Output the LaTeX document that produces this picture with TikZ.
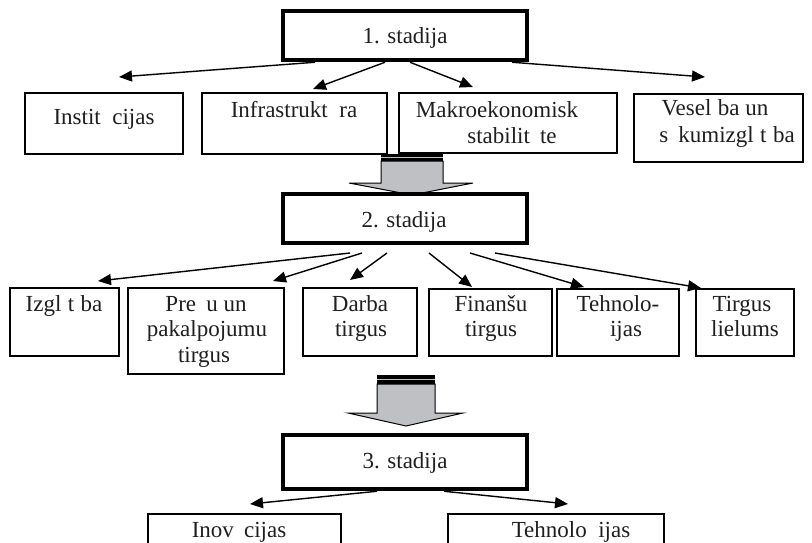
\documentclass[tikz,border=0pt]{standalone}
\usepackage{fontspec}
\setmainfont{Liberation Serif}
\usetikzlibrary{arrows.meta,calc}
% blank space left where a glyph is missing
\newcommand\gp[1]{\hspace{#1em}}
\definecolor{arrowgray}{RGB}{190,192,195}
\begin{document}
\begin{tikzpicture}[x=1pt,y=-1pt,
  box/.style={draw=black, line width=1.3pt, fill=white, inner sep=0pt},
  stage/.style={draw=black, line width=4.5pt, fill=white, inner sep=0pt},
  lbl/.style={anchor=base, inner sep=0pt, font=\fontsize{23}{26}\selectfont, text=black!88},
  arr/.style={line width=1.4pt, -{Triangle[length=13pt,width=11pt]}},
  blockarrow/.style={fill=arrowgray, draw=black, line width=1pt},
  arrowcap/.style={fill=black},
]
\useasboundingbox (0,0) rectangle (812,542);
\clip (0,0) rectangle (812,542);

% ---- block arrows between the stages ----
\fill[arrowcap] (381,154) rectangle (443,161);
\draw[arrowgray, line width=0.8pt] (381,157.5) -- (443,157.5);
\draw[blockarrow] (381,161) -- (381,183) -- (349,183) -- (412,195) -- (473,183) -- (443,183) -- (443,161) -- cycle;

\fill[arrowcap] (377,375) rectangle (435,384);
\draw[arrowgray, line width=0.8pt] (377,379.5) -- (435,379.5);
\draw[blockarrow] (377,384) -- (377,413) -- (348,413) -- (406,426) -- (463,413) -- (435,413) -- (435,384) -- cycle;

% ---- stage 1 ----
\node[stage, minimum width=244pt, minimum height=49pt] (s1) at (405,35.5) {};
\node[lbl] (s1-t) at (405,43) {1. stadija};

\node[box, minimum width=158pt, minimum height=61pt] (inst) at (104,123.5) {};
\node[box, minimum width=185pt, minimum height=61pt] (infra) at (294.5,123.5) {};
\node[box, minimum width=218pt, minimum height=60pt] (makro) at (508,123) {};
\node[box, minimum width=169pt, minimum height=68pt] (vesel) at (718.5,128) {};

\node[lbl] (inst-t) at (104,124) {Instit\gp{0.5}cijas};
\node[lbl] (infra-t) at (294,117) {Infrastrukt\gp{0.5}ra};
\node[lbl] (makro-t1) at (497,117) {Makroekonomisk};
\node[lbl] (makro-t2) at (512,143.5) {stabilit\gp{0.44}te};
\node[lbl] (vesel-t1) at (715,115) {Vesel\gp{0.28}ba un};
\node[lbl] (vesel-t2) at (727,142) {s\gp{0.44}kumizgl\gp{0.28}t\gp{0.28}ba};

\coordinate (inst-in) at (119,77);
\coordinate (infra-in) at (313,89);
\coordinate (makro-in) at (473,87);
\coordinate (vesel-in) at (705,77);
\draw[arr] (s1.south -| 315,0) -- (inst-in);
\draw[arr] (s1.south -| 385,0) -- (infra-in);
\draw[arr] (s1.south -| 410,0) -- (makro-in);
\draw[arr] (s1.south -| 512,0) -- (vesel-in);

% ---- stage 2 ----
\node[stage, minimum width=244pt, minimum height=49pt] (s2) at (405,218.5) {};
\node[lbl] (s2-t) at (404,227) {2. stadija};

\node[box, minimum width=109pt, minimum height=68pt] (izgl) at (64.5,322) {};
\node[box, minimum width=156pt, minimum height=86pt] (precu) at (206,331) {};
\node[box, minimum width=114pt, minimum height=68pt] (darba) at (360,322) {};
\node[box, minimum width=123pt, minimum height=67pt] (finan) at (490.5,322.5) {};
\node[box, minimum width=122pt, minimum height=67pt] (tehn) at (618,322.5) {};
\node[box, minimum width=98pt, minimum height=67pt] (tirg) at (745,322.5) {};

\node[lbl] (izgl-t) at (64,311) {Izgl\gp{0.28}t\gp{0.28}ba};
\node[lbl] (precu-t1) at (206,311) {Pre\gp{0.44}u un};
\node[lbl] (precu-t2) at (207,336) {pakalpojumu};
\node[lbl] (precu-t3) at (204,362) {tirgus};
\node[lbl] (darba-t1) at (360,311) {Darba};
\node[lbl] (darba-t2) at (361,336) {tirgus};
\node[lbl] (finan-t1) at (491,311) {Finanšu};
\node[lbl] (finan-t2) at (491,336) {tirgus};
\node[lbl] (tehn-t1) at (618,311) {Tehnolo-};
\node[lbl] (tehn-t2) at (626,336) {ijas};
\node[lbl] (tirg-t1) at (742,311) {Tirgus};
\node[lbl] (tirg-t2) at (745,336) {lielums};

\coordinate (s2-o1) at (350,253);
\coordinate (s2-o2) at (362,253);
\coordinate (s2-o3) at (387,253);
\coordinate (s2-o4) at (429,253);
\coordinate (s2-o5) at (470,253);
\coordinate (s2-o6) at (495,253);
\coordinate (izgl-in) at (98,281);
\coordinate (precu-in) at (273,281);
\coordinate (darba-in) at (350,280);
\coordinate (finan-in) at (472,287);
\coordinate (tehn-in) at (584,287);
\coordinate (tirg-in) at (701,288);
\draw[arr] (s2-o1) -- (izgl-in);
\draw[arr] (s2-o2) -- (precu-in);
\draw[arr] (s2-o3) -- (darba-in);
\draw[arr] (s2-o4) -- (finan-in);
\draw[arr] (s2-o5) -- (tehn-in);
\draw[arr] (s2-o6) -- (tirg-in);

% ---- stage 3 ----
\node[stage, minimum width=244pt, minimum height=54pt] (s3) at (405,462) {};
\node[lbl] (s3-t) at (405,468) {3. stadija};

\node[box, minimum width=193pt, minimum height=56pt] (inov) at (244.5,542) {};
\node[box, minimum width=216pt, minimum height=56pt] (tehn3) at (556,542) {};
\node[lbl] (inov-t) at (239,537) {Inov\gp{0.44}cijas};
\node[lbl] (tehn3-t) at (571,537) {Tehnolo\gp{0.5}ijas};

\coordinate (inov-in) at (250,504);
\coordinate (tehn3-in) at (568,504);
\draw[arr] (s3.south -| 377,0) -- (inov-in);
\draw[arr] (s3.south -| 444,0) -- (tehn3-in);
\end{tikzpicture}
\end{document}
